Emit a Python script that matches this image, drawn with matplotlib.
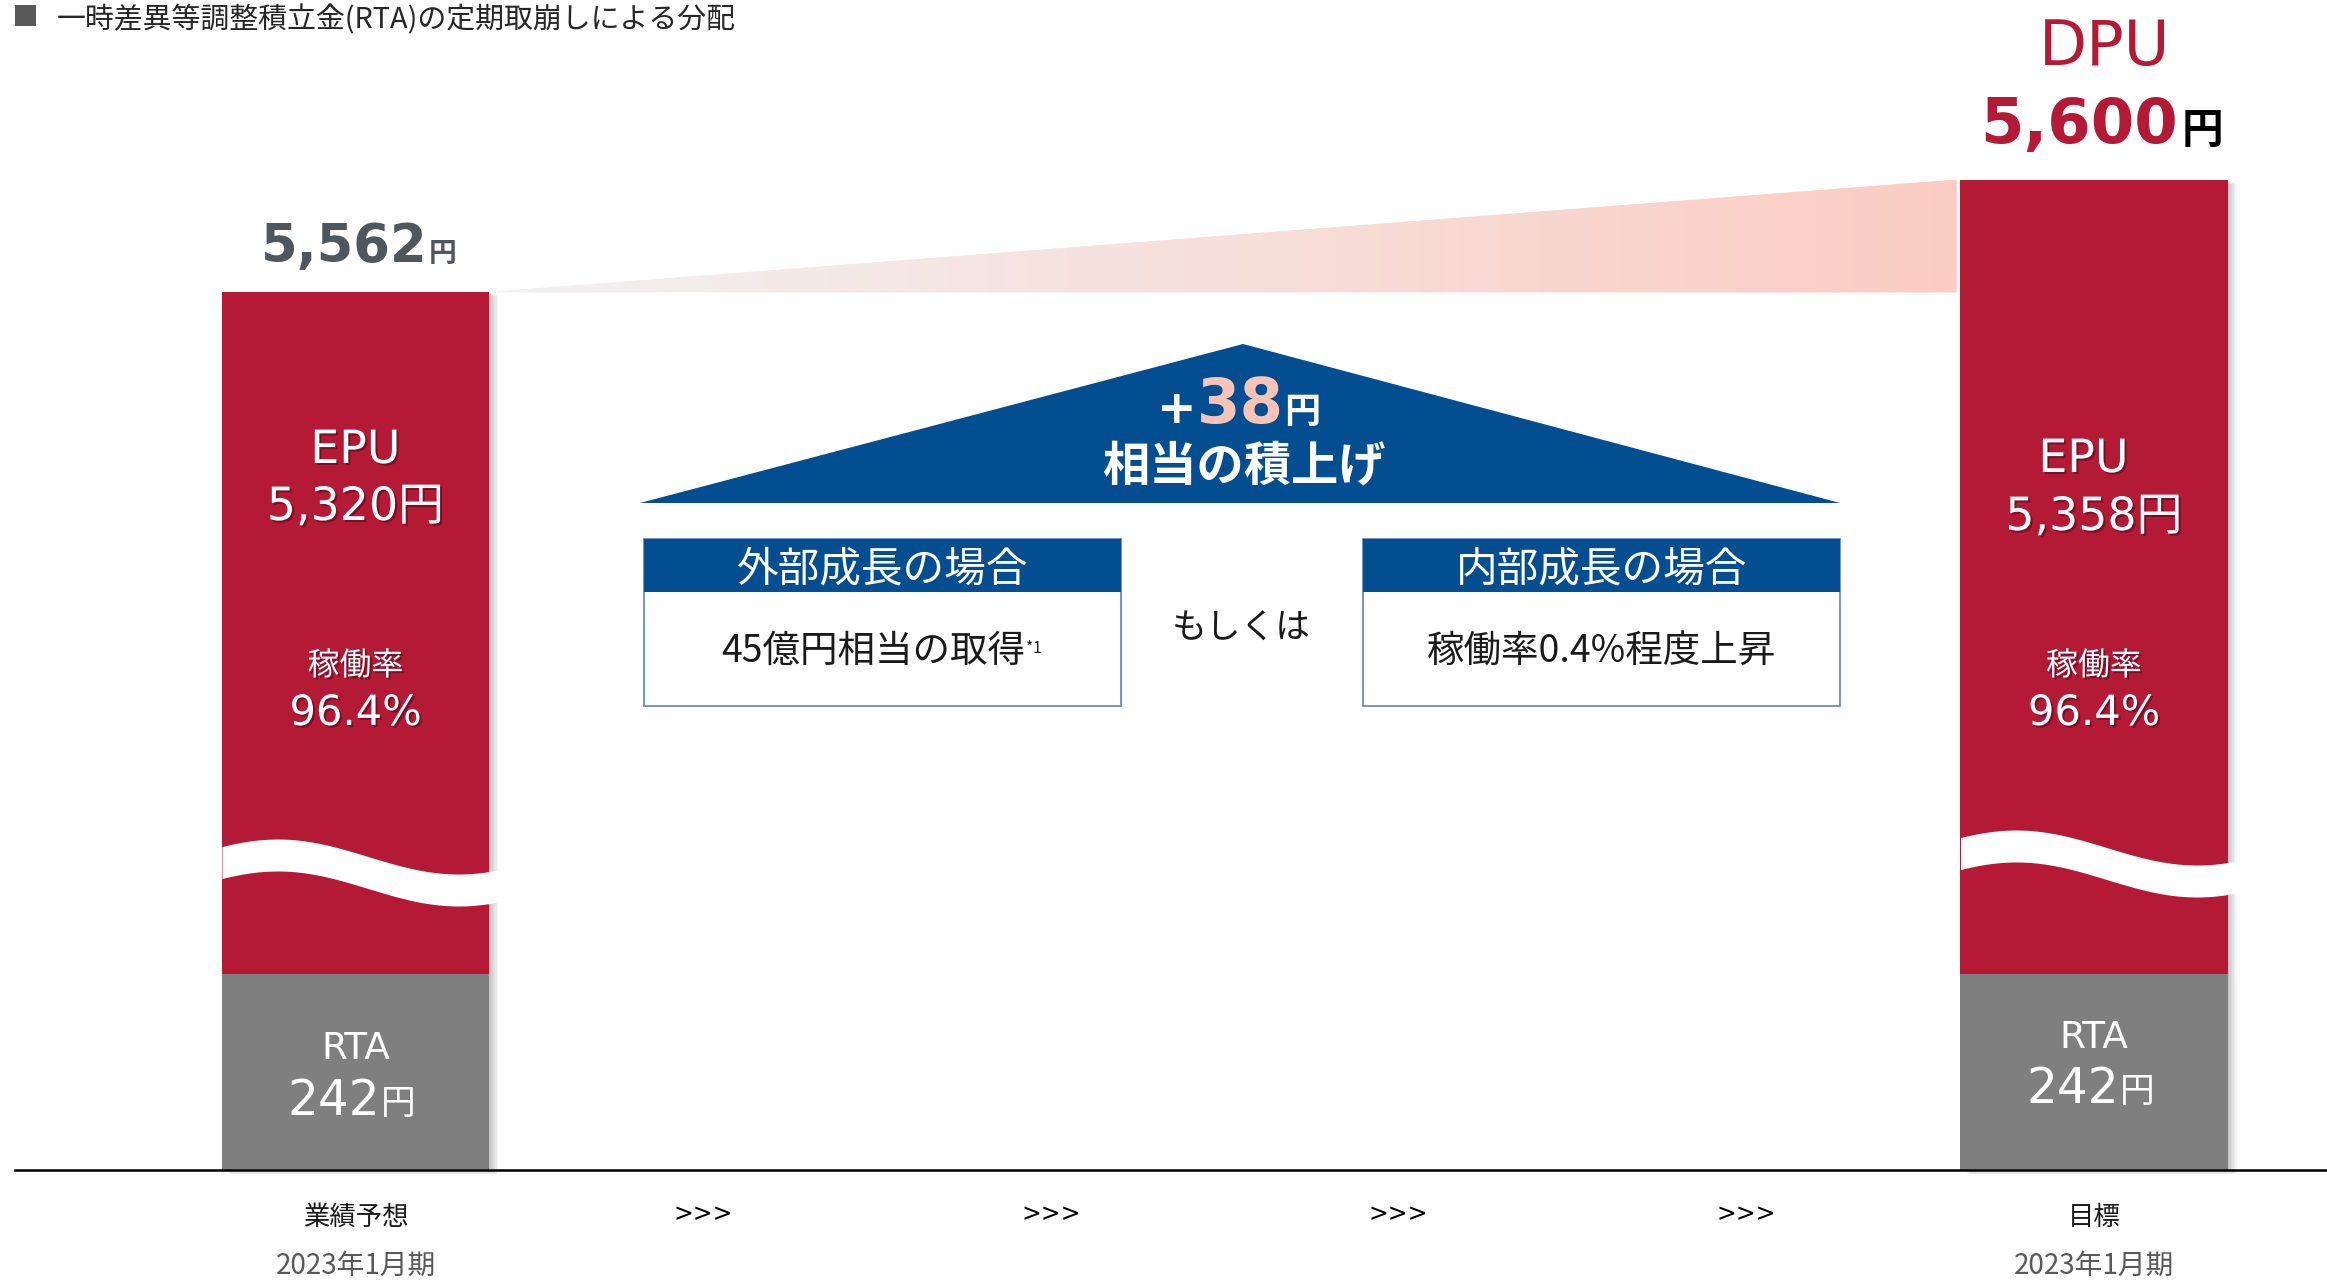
import numpy as np
import matplotlib
matplotlib.use("Agg")
import matplotlib.pyplot as plt
import matplotlib.patheffects as pe
from matplotlib.patches import Polygon, Rectangle
from matplotlib.transforms import blended_transform_factory, offset_copy

# ---- data ---------------------------------------------------------------
periods = ["業績予想", "目標"]
period_terms = ["2023年1月期", "2023年1月期"]
epu = [5320, 5358]            # 円
rta = [242, 242]              # 円
occupancy = [96.4, 96.4]      # %
step_marks = [">>>", ">>>", ">>>", ">>>"]
scenario_heads = ["外部成長の場合", "内部成長の場合"]
scenario_bodies = ["45億円相当の取得", "稼働率0.4%程度上昇"]
scenario_notes = ["*1", ""]
legend_text = "一時差異等調整積立金(RTA)の定期取崩しによる分配"
joiner = "もしくは"
uplift_caption = "相当の積上げ"

dpu = [e + r for e, r in zip(epu, rta)]
uplift = dpu[1] - dpu[0]

# ---- styles / layout ------------------------------------------------------
W, H, DPI = 2327, 1281, 100
RED = "#B41A35"
GREY_BAR = "#7F7F7F"
BLUE = "#034E91"
PINK = "#F9C4B7"
DARK = "#50565E"
LATIN = ["DejaVu Sans", "Noto Sans CJK JP"]
CJK = ["Noto Sans CJK JP", "DejaVu Sans"]
plt.rcParams["font.family"] = CJK

BASE = 1170                      # baseline, px from top
bar_x = [0, 5]
step_x = [1, 2, 3, 4]
bw = 0.768
UNIT = 347.7                     # px per category step
X0PX = 355.5                     # px of category 0

# broken value axis: linear RTA band, compressed span hidden behind the wave,
# stretched top band so the step between the two DPUs is visible
knot_val = np.array([-1000.0, 0.0, 242.0, 5400.0, 5562.0, 7000.0])
knot_px = np.array([-810.0, 0.0, 196.0, 400.6, 878.0, 878.0 + 1438 * 112 / 38])


def fwd(v):
    return np.interp(v, knot_val, knot_px)


def inv(p):
    return np.interp(p, knot_px, knot_val)


fig = plt.figure(figsize=(W / DPI, H / DPI), dpi=DPI)
ax = fig.add_axes([0, 0, 1, 1])
ax.set_yscale("function", functions=(fwd, inv))
ax.set_xlim(-X0PX / UNIT, (W - X0PX) / UNIT)
ax.set_ylim(inv(-(H - BASE)), inv(BASE))
ax.axis("off")

tb = blended_transform_factory(ax.transData, fig.transFigure)


def fy(ypx):
    return 1 - ypx / H


# soft drop shadow behind the bars
for k in range(1, 7):
    tr = offset_copy(ax.transData, fig=fig, x=k * 1.5, y=-k * 0.7, units="dots")
    for i, x in enumerate(bar_x):
        ax.add_patch(Rectangle((x - bw / 2, 0), bw, dpu[i], transform=tr,
                               color="black", alpha=0.04, lw=0, zorder=2,
                               clip_on=False))

# stacked bars: RTA at the bottom, EPU on top
ax.bar(bar_x, rta, width=bw, color=GREY_BAR, zorder=3, lw=0)
ax.bar(bar_x, epu, bottom=rta, width=bw, color=RED, zorder=3, lw=0)

# wavy break across each bar
wave_top = [856.5, 847.5]
for i, x in enumerate(bar_x):
    u = np.linspace(0, 1, 160)
    xs = (x - bw / 2) + (bw + 0.032) * u
    top = wave_top[i] + 17.5 * np.sin(2 * np.pi * (u - 0.2) / 1.3 - np.pi / 2)
    ax.fill_between(xs, inv(BASE - top - 32), inv(BASE - top),
                    color="white", lw=0, zorder=4)

# gradient wedge rising from one DPU to the next
wx0 = bar_x[0] + bw / 2 + 0.009
wx1 = bar_x[1] - bw / 2 - 0.012
c0 = np.array([241, 241, 241]) / 255
c1 = np.array([251, 204, 195]) / 255
N = 260
edges = np.linspace(wx0, wx1, N + 1)
for j in range(N):
    t = (j + 0.5) / N
    col = (1 - t) * c0 + t * c1
    xa, xb = edges[j], edges[j + 1]
    ya = dpu[0] + (dpu[1] - dpu[0]) * (xa - wx0) / (wx1 - wx0)
    yb = dpu[0] + (dpu[1] - dpu[0]) * (xb - wx0) / (wx1 - wx0)
    ax.fill([xa, xb, xb, xa], [dpu[0], dpu[0], yb, ya], color=col,
            ec=col, lw=0.6, zorder=1)

# baseline
ax.axhline(0, xmin=15 / W, xmax=1, color="black", lw=1.8, zorder=6)

# ---- labels inside / above the bars ---------------------------------------
shadow_fx = [pe.SimplePatchShadow(offset=(1.5, -1.5), shadow_rgbFace="#3a0010",
                                  alpha=0.45), pe.Normal()]
epu_base = [(463, 520), (472, 530)]
epu_dx = [0.0, -0.03]
rta_base = [(1059, 1115), (1048, 1103)]
for i, x in enumerate(bar_x):
    ax.text(x + epu_dx[i], fy(epu_base[i][0]), "EPU", ha="center",
            va="baseline", fontsize=33, family=LATIN, color="white",
            transform=tb, path_effects=shadow_fx, zorder=7)
    ax.text(x, fy(epu_base[i][1]), f"{epu[i]:,}円", ha="center", va="baseline",
            fontsize=33, family=LATIN, color="white", transform=tb,
            path_effects=shadow_fx, zorder=7)
    ax.text(x, fy(675), "稼働率", ha="center", va="baseline", fontsize=23,
            family=CJK, color="white", transform=tb, path_effects=shadow_fx,
            zorder=7)
    ax.text(x, fy(725), f"{occupancy[i]:.1f}%", ha="center", va="baseline",
            fontsize=30, family=LATIN, color="white", transform=tb,
            path_effects=shadow_fx, zorder=7)
    ax.text(x, fy(rta_base[i][0]), "RTA", ha="center", va="baseline",
            fontsize=27, family=LATIN, color="white", transform=tb, zorder=7)
    ax.text(x + 0.072, fy(rta_base[i][1]), f"{rta[i]}", ha="right",
            va="baseline", fontsize=35, family=LATIN, color="white",
            transform=tb, zorder=7)
    ax.text(x + 0.074, fy(rta_base[i][1] - 1), "円", ha="left", va="baseline",
            fontsize=25, family=CJK, color="white", transform=tb, zorder=7)
    # category labels under the baseline
    ax.text(x, fy(1225), periods[i], ha="center", va="baseline", fontsize=19,
            family=CJK, color="#1A1A1A", transform=tb)
    ax.text(x, fy(1274), period_terms[i], ha="center", va="baseline",
            fontsize=20, family=CJK, color="#595959", transform=tb)

for x, s in zip(step_x, step_marks):
    ax.text(x, fy(1221), s, ha="center", va="baseline", fontsize=17,
            family=LATIN, color="black", transform=tb)

# totals
ax.text(bar_x[0] + 0.206, fy(262), f"{dpu[0]:,}", ha="right", va="baseline",
        fontsize=38, weight="bold", family=LATIN, color=DARK, transform=tb)
ax.text(bar_x[0] + 0.210, fy(262), "円", ha="left", va="baseline",
        fontsize=20, weight="bold", family=CJK, color=DARK, transform=tb)
ax.text(bar_x[1] + 0.029, fy(65), "DPU", ha="center", va="baseline",
        fontsize=45, family=LATIN, color=RED, transform=tb)
ax.text(bar_x[1] + 0.242, fy(143), f"{dpu[1]:,}", ha="right", va="baseline",
        fontsize=45, weight="bold", family=LATIN, color=RED, transform=tb)
ax.text(bar_x[1] + 0.252, fy(143), "円", ha="left", va="baseline",
        fontsize=30, weight="bold", family=CJK, color="black", transform=tb)

# ---- middle diagram (pixel coordinates) -----------------------------------
ov = fig.add_axes([0, 0, 1, 1], zorder=5)
ov.set_xlim(0, W)
ov.set_ylim(H, 0)
ov.axis("off")

# legend marker
ov.add_patch(Rectangle((15, 5), 21, 21, color="#595959", lw=0))
ov.text(57, 28, legend_text, ha="left", va="baseline", fontsize=20.8,
        family=CJK, color="#262626")

ov.add_patch(Polygon([(640, 503), (1243, 344), (1840, 503)], closed=True,
                     color=BLUE, lw=0))
ov.text(1197, 423, "+", ha="right", va="baseline", fontsize=34,
        weight="bold", family=LATIN, color="white")
ov.text(1240, 423, f"{uplift}", ha="center", va="baseline", fontsize=45,
        weight="bold", family=LATIN, color=PINK)
ov.text(1284, 423, "円", ha="left", va="baseline", fontsize=26,
        weight="bold", family=CJK, color="white")
ov.text(1244, 481, uplift_caption, ha="center", va="baseline", fontsize=34,
        weight="bold", family=CJK, color="white")

boxes = [(644, 1121), (1363, 1840)]
body_cx = [873, 1601]
for i, (bx0, bx1) in enumerate(boxes):
    ov.add_patch(Rectangle((bx0, 539), bx1 - bx0, 706 - 539, fc="white",
                           ec="#6A8BBF", lw=1.3))
    ov.add_patch(Rectangle((bx0, 539), bx1 - bx0, 53, fc=BLUE, lw=0))
    ov.text((bx0 + bx1) / 2, 581, scenario_heads[i], ha="center",
            va="baseline", fontsize=30, family=CJK, color="white")
    ov.text(body_cx[i], 662, scenario_bodies[i], ha="center", va="baseline",
            fontsize=27, family=CJK, color="#1A1A1A")
    if scenario_notes[i]:
        ov.text(1026, 653, scenario_notes[i], ha="left", va="baseline",
                fontsize=11, family=CJK, color="#1A1A1A")

ov.text(1241, 639, joiner, ha="center", va="baseline", fontsize=25,
        family=CJK, color="#1A1A1A")

fig.savefig("out.png", dpi=DPI)
